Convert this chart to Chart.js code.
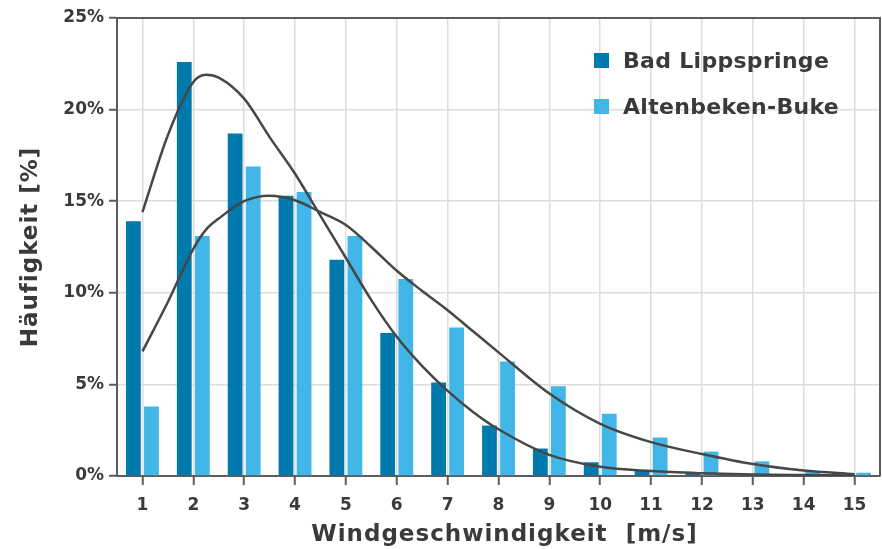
<!DOCTYPE html>
<html><head><meta charset="utf-8">
<script src="https://cdn.jsdelivr.net/npm/chart.js@4.4.0/dist/chart.umd.min.js"></script>
<style>html,body{margin:0;padding:0;background:#fff;}</style>
</head><body>
<canvas id="c" width="882" height="549"></canvas>
<script>
// ---- data ----
const categories = ['1','2','3','4','5','6','7','8','9','10','11','12','13','14','15'];
const seriesNames = ['Bad Lippspringe', 'Altenbeken-Buke'];
const badLippspringe = [13.9, 22.6, 18.7, 15.3, 11.8, 7.8, 5.1, 2.75, 1.5, 0.75, 0.33, 0.16, 0.08, 0.04, 0.02];
const altenbekenBuke = [3.8, 13.1, 16.9, 15.5, 13.1, 10.75, 8.1, 6.25, 4.9, 3.4, 2.1, 1.33, 0.8, 0.27, 0.18];
const fitX = [1, 1.5, 2, 2.25, 2.5, 3, 3.5, 4, 4.5, 5, 5.5, 6, 6.5, 7, 7.5, 8, 9, 10, 11, 12, 13, 14, 15];
const fitLippspringe = [14.4, 18.6, 21.5, 21.9, 21.75, 20.6, 18.5, 16.5, 14.2, 11.9, 9.6, 7.6, 6.0, 4.65, 3.5, 2.55, 1.15, 0.5, 0.27, 0.15, 0.08, 0.05, 0.03];
const fitAltenbeken = [6.8, 9.5, 12.4, 13.45, 14.05, 15.0, 15.3, 15.05, 14.4, 13.7, 12.5, 11.2, 10.1, 9.05, 7.9, 6.75, 4.5, 2.85, 1.85, 1.2, 0.65, 0.3, 0.1];
const yTickLabels = ['0%', '5%', '10%', '15%', '20%', '25%'];
const xTitle = 'Windgeschwindigkeit  [m/s]';
const yTitle = 'Häufigkeit [%]';

const FONT = "'DejaVu Sans', sans-serif";
const TEXT = '#3a3a3a';
const AXIS = '#5c5c5c';
const GRID = '#dddddd';
const C_DARK = '#0079ad';
const C_LIGHT = '#42b6e7';

const catPos = categories.map((c, i) => i + 1);
const catBounds = [0.5].concat(catPos.map(v => v + 0.5));

const framePlugin = {
  id: 'frame',
  afterDatasetsDraw(chart) {
    const {ctx, chartArea: a} = chart;
    ctx.save();
    ctx.strokeStyle = AXIS;
    ctx.lineWidth = 2;
    ctx.beginPath();
    ctx.moveTo(a.left, a.top);
    ctx.lineTo(a.right, a.top);
    ctx.lineTo(a.right, a.bottom);
    ctx.stroke();
    ctx.restore();
  }
};

const textPlugin = {
  id: 'texts',
  afterDraw(chart) {
    const {ctx, chartArea: a} = chart;
    ctx.save();
    ctx.fillStyle = TEXT;
    // legend
    const bars = chart.data.datasets.filter(d => d.type === 'bar');
    ctx.font = "bold 22px " + FONT;
    ctx.letterSpacing = '0.3px';
    ctx.textBaseline = 'middle';
    ctx.textAlign = 'left';
    bars.forEach((d, i) => {
      const y = a.top + 35 + i * 46;
      ctx.fillStyle = d.backgroundColor;
      ctx.fillRect(a.left + 477, y, 15, 15);
      ctx.fillStyle = TEXT;
      ctx.fillText(d.label, a.left + 506, y + 9);
    });
    // axis titles
    ctx.font = "bold 23px " + FONT;
    ctx.letterSpacing = '1px';
    ctx.textAlign = 'center';
    ctx.fillText(xTitle, (a.left + a.right) / 2 + 6, 535);
    ctx.translate(31, (a.top + a.bottom) / 2);
    ctx.rotate(-Math.PI / 2);
    ctx.fillText(yTitle, 0, 0);
    ctx.restore();
  }
};

new Chart(document.getElementById('c'), {
  type: 'bar',
  data: {
    datasets: [
      { type: 'line', label: 'fit1', data: fitX.map((x, i) => ({x, y: fitLippspringe[i]})),
        order: 0, borderColor: '#474747', borderWidth: 2.5, pointRadius: 0,
        cubicInterpolationMode: 'monotone', fill: false },
      { type: 'line', label: 'fit2', data: fitX.map((x, i) => ({x, y: fitAltenbeken[i]})),
        order: 0, borderColor: '#474747', borderWidth: 2.5, pointRadius: 0,
        cubicInterpolationMode: 'monotone', fill: false },
      { type: 'bar', label: seriesNames[0], data: badLippspringe.map((y, i) => ({x: catPos[i], y})),
        backgroundColor: C_DARK, order: 1, barPercentage: 0.82, categoryPercentage: 0.71 },
      { type: 'bar', label: seriesNames[1], data: altenbekenBuke.map((y, i) => ({x: catPos[i], y})),
        backgroundColor: C_LIGHT, order: 1, barPercentage: 0.82, categoryPercentage: 0.71 }
    ]
  },
  options: {
    responsive: false,
    animation: false,
    devicePixelRatio: 1,
    layout: { padding: { top: 18, right: 2, left: 0, bottom: 0 } },
    plugins: { legend: { display: false }, tooltip: { enabled: false } },
    scales: {
      x: {
        type: 'linear', min: 0.5, max: 15.5, offset: false, weight: 0, position: 'bottom',
        afterBuildTicks(s) { s.ticks = catBounds.map(v => ({value: v})); },
        ticks: { display: false },
        grid: { color: GRID, lineWidth: 1.5, tickLength: 9, tickColor: AXIS, tickWidth: 2 },
        border: { color: AXIS, width: 2 },
        afterFit(s) { s.height = 9; }
      },
      x2: {
        type: 'linear', min: 0.5, max: 15.5, offset: false, weight: 1, position: 'bottom',
        afterBuildTicks(s) { s.ticks = catPos.map(v => ({value: v})); },
        ticks: { callback: (v) => categories[Math.round(v) - 1], autoSkip: false, maxRotation: 0,
                 font: { family: FONT, size: 17, weight: 'bold' }, color: TEXT, padding: 10 },
        grid: { display: false, drawTicks: false },
        border: { display: false },
        afterFit(s) { s.height = 64; }
      },
      y: {
        min: 0, max: 25,
        ticks: { stepSize: 5, callback: (v, i) => yTickLabels[i], font: { family: FONT, size: 17, weight: 'bold' }, color: TEXT, padding: 5 },
        grid: { color: GRID, lineWidth: 1.5, tickLength: 8, tickColor: AXIS, tickWidth: 2 },
        border: { color: AXIS, width: 2 },
        afterFit(s) { s.width = 117; }
      }
    }
  },
  plugins: [framePlugin, textPlugin]
});
</script>
</body></html>
